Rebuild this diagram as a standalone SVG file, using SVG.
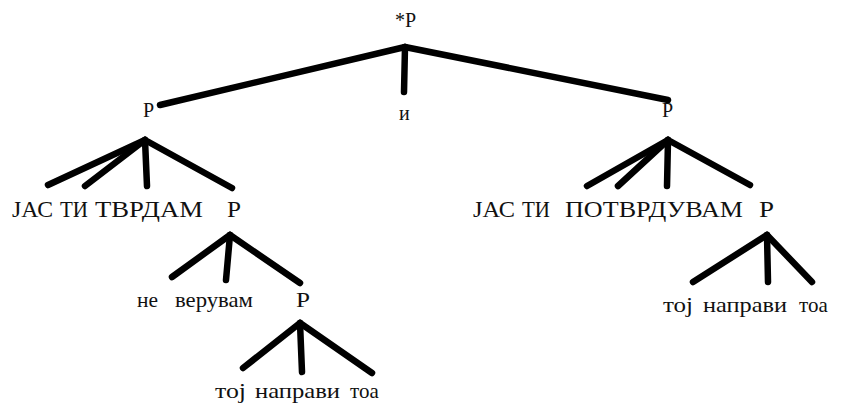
<svg xmlns="http://www.w3.org/2000/svg" width="848" height="408" viewBox="0 0 848 408">
<style>
.e{stroke:#000;stroke-width:6.5;stroke-linecap:round;fill:none}
.n{font-size:20px}
.c{font-size:24px}
.l{font-size:21px}
</style>
<rect width="848" height="408" fill="#fff"/>
<g id="connectors">
<path class="e" d="M405 47 L160 105"/>
<path class="e" d="M405 47 L404 92"/>
<path class="e" d="M405 47 L668 100"/>
<path class="e" d="M145 140 L48 185"/>
<path class="e" d="M145 140 L85 186"/>
<path class="e" d="M145 140 L147 186"/>
<path class="e" d="M145 140 L232 188"/>
<path class="e" d="M668 140 L587 186"/>
<path class="e" d="M668 140 L618 186"/>
<path class="e" d="M668 140 L667 186"/>
<path class="e" d="M668 140 L750 185"/>
<path class="e" d="M230 235 L172 277"/>
<path class="e" d="M230 235 L226 280"/>
<path class="e" d="M230 235 L300 283"/>
<path class="e" d="M300 323 L243 368"/>
<path class="e" d="M300 323 L302 372"/>
<path class="e" d="M300 323 L372 373"/>
<path class="e" d="M767 235 L693 282"/>
<path class="e" d="M767 235 L768 282"/>
<path class="e" d="M767 235 L812 282"/>
</g>
<g font-family="Liberation Serif, DejaVu Serif, serif" fill="#111">
<g id="root"><text class="n" x="395" y="27">*Р</text></g>
<g id="p-left"><text class="n" x="143" y="117">Р</text></g>
<g id="conj"><text class="n" x="399" y="120">и</text></g>
<g id="p-right"><text class="n" x="662" y="117">Р</text></g>
<g id="left-leaves">
<text class="c" x="12" y="217" textLength="41" lengthAdjust="spacingAndGlyphs">ЈАС</text>
<text class="c" x="60" y="217" textLength="28" lengthAdjust="spacingAndGlyphs">ТИ</text>
<text class="c" x="95" y="217" textLength="108" lengthAdjust="spacingAndGlyphs">ТВРДАМ</text>
</g>
<g id="p-left-2"><text class="c" x="227" y="217" textLength="14" lengthAdjust="spacingAndGlyphs">Р</text></g>
<g id="right-leaves">
<text class="c" x="473" y="217" textLength="42" lengthAdjust="spacingAndGlyphs">ЈАС</text>
<text class="c" x="522" y="217" textLength="28" lengthAdjust="spacingAndGlyphs">ТИ</text>
<text class="c" x="565" y="217" textLength="178" lengthAdjust="spacingAndGlyphs">ПОТВРДУВАМ</text>
</g>
<g id="p-right-2"><text class="c" x="759" y="217" textLength="15" lengthAdjust="spacingAndGlyphs">Р</text></g>
<g id="left-mid-leaves">
<text class="l" x="137" y="307" textLength="21" lengthAdjust="spacingAndGlyphs">не</text>
<text class="l" x="175" y="307" textLength="78" lengthAdjust="spacingAndGlyphs">верувам</text>
</g>
<g id="p-left-3"><text class="n" x="296" y="307" textLength="14" lengthAdjust="spacingAndGlyphs">Р</text></g>
<g id="left-bottom-leaves">
<text class="l" x="215" y="398" textLength="31" lengthAdjust="spacingAndGlyphs">тој</text>
<text class="l" x="255" y="398" textLength="85" lengthAdjust="spacingAndGlyphs">направи</text>
<text class="l" x="350" y="398">тоа</text>
</g>
<g id="right-bottom-leaves">
<text class="l" x="663" y="312" textLength="30" lengthAdjust="spacingAndGlyphs">тој</text>
<text class="l" x="703" y="312" textLength="84" lengthAdjust="spacingAndGlyphs">направи</text>
<text class="l" x="799" y="312">тоа</text>
</g>
</g>
</svg>
